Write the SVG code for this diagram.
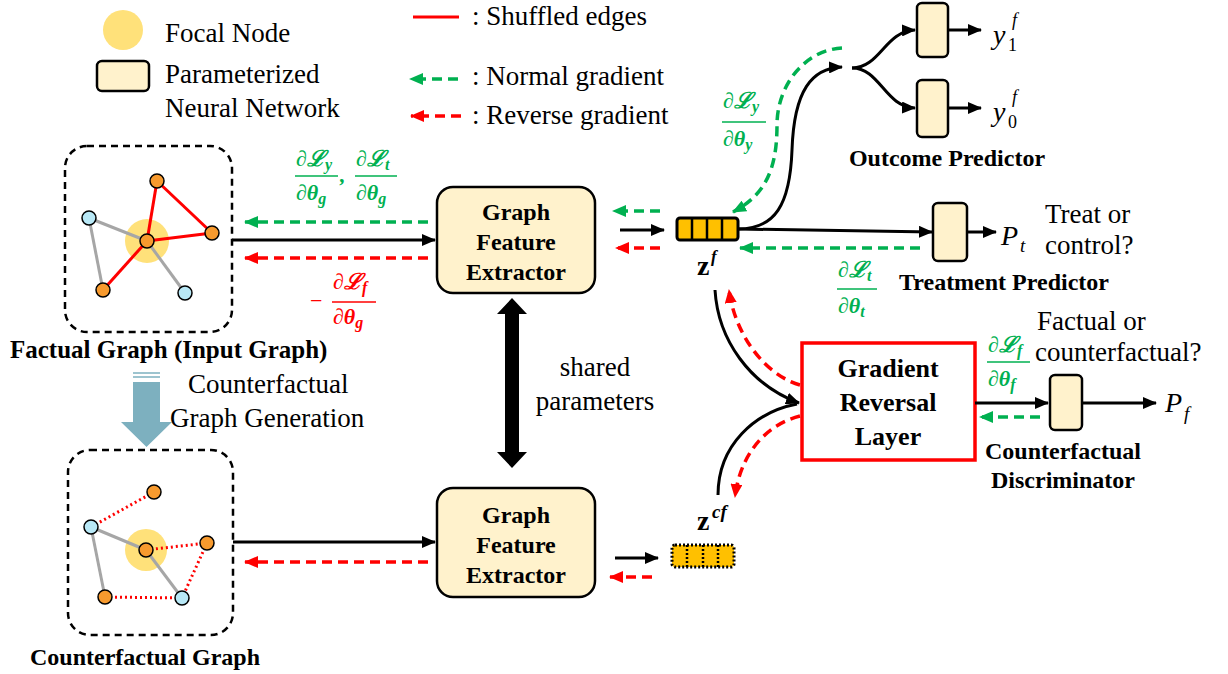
<svg xmlns="http://www.w3.org/2000/svg" width="1228" height="674" viewBox="0 0 1228 674">
<defs>
<style>
text{font-family:"Liberation Serif","Times New Roman",serif;fill:#000}
.r{font-size:27px}
.b{font-size:24px;font-weight:bold}
.m{font-style:italic;font-weight:bold;font-size:22px}
.s{font-size:16px}
.g{fill:#00B050}
.rd{fill:#FF0000}
.blk{stroke:#000;stroke-width:3;fill:none}
.gd{stroke:#00B050;stroke-width:3.5;fill:none;stroke-dasharray:10,6}
.rdd{stroke:#FF0000;stroke-width:3.5;fill:none;stroke-dasharray:10,6}
.box{fill:#FFF2CC;stroke:#000;stroke-width:2.5}
.on{fill:#F79A2E;stroke:#000;stroke-width:1.5}
.cn{fill:#B8E8F6;stroke:#000;stroke-width:1.5}
.fe{stroke:#FF0000;stroke-width:3}
.ge{stroke:#A6A6A6;stroke-width:3}
.de{stroke:#FF0000;stroke-width:3;stroke-dasharray:2,3}
.gb{stroke:#000;stroke-width:2.5;fill:none;stroke-dasharray:7,5}
.vec{fill:#FFC000;stroke:#000;stroke-width:3}
.div{stroke:#000;stroke-width:2.5}
.gbar{stroke:#00B050;stroke-width:1.5}
.rbar{stroke:#FF0000;stroke-width:1.5}
</style>
<marker id="ab" markerWidth="14" markerHeight="12" refX="13" refY="6" orient="auto" markerUnits="userSpaceOnUse"><path d="M0,0 L14,6 L0,12 z" fill="#000"/></marker>
<marker id="ag" markerWidth="14" markerHeight="12" refX="13" refY="6" orient="auto" markerUnits="userSpaceOnUse"><path d="M0,0 L14,6 L0,12 z" fill="#00B050"/></marker>
<marker id="ar" markerWidth="14" markerHeight="12" refX="13" refY="6" orient="auto" markerUnits="userSpaceOnUse"><path d="M0,0 L14,6 L0,12 z" fill="#FF0000"/></marker>
</defs>
<rect width="1228" height="674" fill="#fff"/>

<g id="legend">
<circle cx="123" cy="30" r="20" fill="#FFE17A"/>
<text class="r" x="165" y="42">Focal Node</text>
<rect class="box" x="97" y="61" width="52" height="30" rx="5"/>
<text class="r" x="165" y="83">Parameterized</text>
<text class="r" x="165" y="117">Neural Network</text>
<line x1="413" y1="17" x2="459" y2="17" stroke="#FF0000" stroke-width="3"/>
<text class="r" x="472" y="25">: Shuffled edges</text>
<line class="gd" x1="458" y1="79" x2="410" y2="79" marker-end="url(#ag)"/>
<text class="r" x="472" y="85">: Normal gradient</text>
<line class="rdd" x1="461" y1="116" x2="411" y2="116" marker-end="url(#ar)"/>
<text class="r" x="472" y="124">: Reverse gradient</text>
</g>

<g id="factual-graph">
<rect class="gb" x="65" y="146" width="167" height="186" rx="22"/>
<circle cx="147" cy="241" r="22" fill="#FFE17A"/>
<line class="fe" x1="157" y1="181" x2="147" y2="241"/>
<line class="fe" x1="157" y1="181" x2="212" y2="233"/>
<line class="fe" x1="147" y1="241" x2="212" y2="233"/>
<line class="fe" x1="147" y1="241" x2="103" y2="290"/>
<line class="ge" x1="89" y1="218" x2="147" y2="241"/>
<line class="ge" x1="89" y1="218" x2="103" y2="290"/>
<line class="ge" x1="147" y1="241" x2="185" y2="293"/>
<circle class="on" cx="157" cy="181" r="7"/>
<circle class="cn" cx="89" cy="218" r="7"/>
<circle class="on" cx="147" cy="241" r="7"/>
<circle class="on" cx="212" cy="233" r="7"/>
<circle class="on" cx="103" cy="290" r="7"/>
<circle class="cn" cx="185" cy="293" r="7"/>
<text class="b" x="10" y="358" style="font-size:25px">Factual Graph (Input Graph)</text>
</g>

<g id="cf-generation">
<polygon points="133,382 160,382 160,422 172,422 146.5,447 121,422 133,422" fill="#7DB0BF"/>
<line x1="133" y1="373" x2="160" y2="373" stroke="#7DB0BF" stroke-width="1.5"/>
<line x1="133" y1="377" x2="160" y2="377" stroke="#7DB0BF" stroke-width="1.5"/>
<text class="r" x="188" y="393">Counterfactual</text>
<text class="r" x="170" y="427">Graph Generation</text>
</g>

<g id="counterfactual-graph">
<rect class="gb" x="68" y="450" width="165" height="185" rx="22"/>
<circle cx="146" cy="550" r="21" fill="#FFE17A"/>
<line class="de" x1="154" y1="492" x2="91" y2="527"/>
<line class="de" x1="146" y1="550" x2="207" y2="543"/>
<line class="de" x1="207" y1="543" x2="182" y2="598"/>
<line class="de" x1="105" y1="597" x2="182" y2="598"/>
<line class="ge" x1="91" y1="527" x2="146" y2="550"/>
<line class="ge" x1="91" y1="527" x2="105" y2="597"/>
<line class="ge" x1="146" y1="550" x2="182" y2="598"/>
<circle class="on" cx="154" cy="492" r="7"/>
<circle class="cn" cx="91" cy="527" r="7"/>
<circle class="on" cx="146" cy="550" r="7"/>
<circle class="on" cx="207" cy="543" r="7"/>
<circle class="on" cx="105" cy="597" r="7"/>
<circle class="cn" cx="182" cy="598" r="7"/>
<text class="b" x="30" y="665">Counterfactual Graph</text>
</g>

<g id="gfe-top">
<rect class="box" x="437" y="187" width="158" height="106" rx="16"/>
<text class="b" x="516" y="220" text-anchor="middle">Graph</text>
<text class="b" x="516" y="250" text-anchor="middle">Feature</text>
<text class="b" x="516" y="280" text-anchor="middle">Extractor</text>
</g>

<g id="gfe-bottom">
<rect class="box" x="437" y="488" width="158" height="109" rx="16"/>
<text class="b" x="516" y="523" text-anchor="middle">Graph</text>
<text class="b" x="516" y="553" text-anchor="middle">Feature</text>
<text class="b" x="516" y="583" text-anchor="middle">Extractor</text>
</g>

<g id="shared-parameters">
<polygon points="512,298 527,314 519,314 519,452 527,452 512,468 497,452 505,452 505,314 497,314" fill="#000"/>
<text class="r" x="595" y="376" text-anchor="middle">shared</text>
<text class="r" x="595" y="410" text-anchor="middle">parameters</text>
</g>

<g id="zf">
<rect class="vec" x="677" y="218" width="61" height="22" rx="3"/>
<line class="div" x1="692" y1="218" x2="692" y2="240"/>
<line class="div" x1="707" y1="218" x2="707" y2="240"/>
<line class="div" x1="722" y1="218" x2="722" y2="240"/>
<text x="697" y="275" style="font-size:28px;font-weight:bold">z</text>
<text x="711" y="262" style="font-size:17px;font-weight:bold;font-style:italic">f</text>
</g>

<g id="zcf">
<rect class="vec" x="672" y="545" width="62" height="22" rx="3" stroke-dasharray="2,2"/>
<line class="div" x1="687" y1="545" x2="687" y2="567" stroke-dasharray="2,2"/>
<line class="div" x1="703" y1="545" x2="703" y2="567" stroke-dasharray="2,2"/>
<line class="div" x1="718" y1="545" x2="718" y2="567" stroke-dasharray="2,2"/>
<text x="697" y="530" style="font-size:28px;font-weight:bold">z</text>
<text x="712" y="518" style="font-size:19px;font-weight:bold;font-style:italic">cf</text>
</g>

<g id="outcome-predictor">
<rect class="box" x="917" y="3" width="31" height="54" rx="5"/>
<rect class="box" x="917" y="80" width="31" height="57" rx="5"/>
<text x="993" y="44" style="font-size:28px;font-style:italic">y</text>
<text x="1012" y="26" style="font-size:18px;font-style:italic">f</text>
<text x="1008" y="51" style="font-size:18px">1</text>
<text x="993" y="121" style="font-size:28px;font-style:italic">y</text>
<text x="1012" y="103" style="font-size:18px;font-style:italic">f</text>
<text x="1008" y="128" style="font-size:18px">0</text>
<text class="b" x="947" y="166" text-anchor="middle">Outcome Predictor</text>
</g>

<g id="treatment-predictor">
<rect class="box" x="933" y="203" width="34" height="58" rx="5"/>
<text x="1001" y="245" style="font-size:28px;font-style:italic">P</text>
<text x="1020" y="252" style="font-size:19px;font-style:italic">t</text>
<text class="r" x="1045" y="223">Treat or</text>
<text class="r" x="1045" y="254">control?</text>
<text class="b" x="1004" y="290" text-anchor="middle">Treatment Predictor</text>
</g>

<g id="gradient-reversal-layer">
<rect x="802" y="343" width="173" height="117" fill="#fff" stroke="#FF0000" stroke-width="3.5"/>
<text x="888" y="377" text-anchor="middle" style="font-size:26px;font-weight:bold">Gradient</text>
<text x="888" y="411" text-anchor="middle" style="font-size:26px;font-weight:bold">Reversal</text>
<text x="888" y="445" text-anchor="middle" style="font-size:26px;font-weight:bold">Layer</text>
</g>

<g id="counterfactual-discriminator">
<rect class="box" x="1050" y="375" width="32" height="55" rx="5"/>
<text x="1165" y="412" style="font-size:28px;font-style:italic">P</text>
<text x="1184" y="420" style="font-size:19px;font-style:italic">f</text>
<text class="r" x="1037" y="330">Factual or</text>
<text class="r" x="1035" y="361">counterfactual?</text>
<text class="b" x="1063" y="459" text-anchor="middle">Counterfactual</text>
<text class="b" x="1063" y="488" text-anchor="middle">Discriminator</text>
</g>

<g id="connectors">
<line class="blk" x1="232" y1="240" x2="435" y2="240" marker-end="url(#ab)"/>
<line class="gd" x1="428" y1="222" x2="245" y2="222" marker-end="url(#ag)"/>
<line class="rdd" x1="428" y1="258" x2="245" y2="258" marker-end="url(#ar)"/>
<line class="blk" x1="233" y1="542" x2="435" y2="542" marker-end="url(#ab)"/>
<line class="rdd" x1="428" y1="562" x2="245" y2="562" marker-end="url(#ar)"/>
<line class="gd" x1="660" y1="211" x2="613" y2="211" marker-end="url(#ag)"/>
<line class="blk" x1="620" y1="230" x2="664" y2="230" marker-end="url(#ab)"/>
<line class="rdd" x1="660" y1="248" x2="616" y2="248" marker-end="url(#ar)"/>
<line class="blk" x1="615" y1="558" x2="658" y2="558" marker-end="url(#ab)"/>
<line class="rdd" x1="652" y1="577" x2="610" y2="577" marker-end="url(#ar)"/>
<path class="blk" d="M738,229 C775,229 790,205 792,150 C794,90 812,68 842,67" marker-end="url(#ab)"/>
<path class="gd" d="M842,48 C805,50 777,85 777,125 C777,170 765,195 733,212" marker-end="url(#ag)"/>
<path class="blk" d="M852,68 C880,68 885,31 915,30" marker-end="url(#ab)"/>
<path class="blk" d="M852,68 C880,68 885,107 915,108" marker-end="url(#ab)"/>
<line class="blk" x1="948" y1="30" x2="981" y2="30" marker-end="url(#ab)"/>
<line class="blk" x1="948" y1="108" x2="981" y2="108" marker-end="url(#ab)"/>
<line class="blk" x1="738" y1="229" x2="932" y2="232" marker-end="url(#ab)"/>
<line class="blk" x1="967" y1="232" x2="996" y2="232" marker-end="url(#ab)"/>
<line class="gd" x1="920" y1="248" x2="740" y2="248" marker-end="url(#ag)"/>
<path class="blk" d="M715,290 C718,340 750,385 799,403" marker-end="url(#ab)"/>
<path class="blk" d="M718,495 C718,445 755,412 797,404"/>
<path class="rdd" d="M800,385 C765,375 735,335 729,290" marker-end="url(#ar)"/>
<path class="rdd" d="M800,416 C765,425 740,455 735,497" marker-end="url(#ar)"/>
<line class="blk" x1="975" y1="403" x2="1048" y2="403" marker-end="url(#ab)"/>
<line class="blk" x1="1082" y1="403" x2="1156" y2="403" marker-end="url(#ab)"/>
<line class="gd" x1="1040" y1="417" x2="980" y2="417" marker-end="url(#ag)"/>
</g>

<g id="gradient-labels">
<text class="m g" x="296" y="166">∂ℒ<tspan class="s" dy="4">y</tspan></text>
<line class="gbar" x1="295" y1="176" x2="338" y2="176"/>
<text class="m g" x="296" y="200">∂θ<tspan class="s" dy="4">g</tspan></text>
<text class="m g" x="340" y="182">,</text>
<text class="m g" x="356" y="166">∂ℒ<tspan class="s" dy="4">t</tspan></text>
<line class="gbar" x1="355" y1="176" x2="397" y2="176"/>
<text class="m g" x="356" y="200">∂θ<tspan class="s" dy="4">g</tspan></text>

<text class="rd" x="310" y="308" style="font-size:22px">−</text>
<text class="m rd" x="333" y="289">∂ℒ<tspan class="s" dy="4">f</tspan></text>
<line class="rbar" x1="332" y1="302" x2="376" y2="302"/>
<text class="m rd" x="333" y="324">∂θ<tspan class="s" dy="4">g</tspan></text>

<text class="m g" x="723" y="108">∂ℒ<tspan class="s" dy="4">y</tspan></text>
<line class="gbar" x1="722" y1="122" x2="766" y2="122"/>
<text class="m g" x="723" y="146">∂θ<tspan class="s" dy="4">y</tspan></text>

<text class="m g" x="838" y="277">∂ℒ<tspan class="s" dy="4">t</tspan></text>
<line class="gbar" x1="837" y1="289" x2="877" y2="289"/>
<text class="m g" x="838" y="313">∂θ<tspan class="s" dy="4">t</tspan></text>

<text class="m g" x="988" y="352">∂ℒ<tspan class="s" dy="4">f</tspan></text>
<line class="gbar" x1="987" y1="362" x2="1030" y2="362"/>
<text class="m g" x="988" y="386">∂θ<tspan class="s" dy="4">f</tspan></text>
</g>
</svg>
